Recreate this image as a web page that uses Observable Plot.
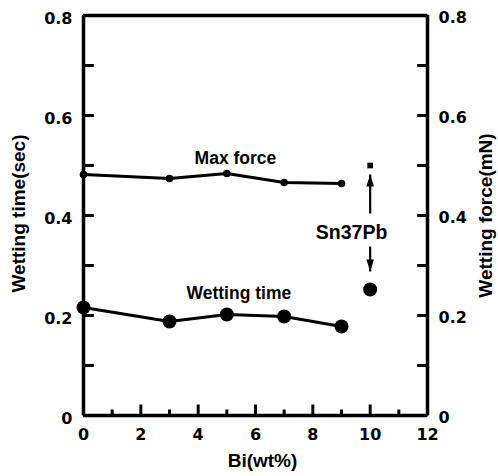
<!DOCTYPE html>
<html>
<head>
<meta charset="utf-8">
<script src="https://cdn.jsdelivr.net/npm/d3@7"></script>
<script src="https://cdn.jsdelivr.net/npm/@observablehq/plot@0.6"></script>
<style>
  body { margin: 0; background: #fff; }
  svg { font-family: "Liberation Sans", Arial, sans-serif; }
</style>
</head>
<body>
<div id="chart"></div>
<script>
// Data
const biContent = [0, 3, 5, 7, 9];
const maxForce = [0.482, 0.474, 0.484, 0.466, 0.464];
const wettingTime = [0.216, 0.188, 0.202, 0.198, 0.178];
const sn37pbX = [10];
const sn37pbForce = [0.50];
const sn37pbTime = [0.252];
const xTicks = [0, 2, 4, 6, 8, 10, 12];
const xMinorTicks = [1, 3, 5, 7, 9, 11];
const yTicks = [0, 0.2, 0.4, 0.6, 0.8];
const yMinorTicks = [0.1, 0.3, 0.5, 0.7];
const xDomain = [0, 12];
const yDomain = [0, 0.8];
// annotation positions in data units
const seriesLabels = [
  {x: 5.3, y: 0.514, text: "Max force"},
  {x: 5.42, y: 0.244, text: "Wetting time"}
];
const refLabel = [{x: 9.35, y: 0.366, text: "Sn37Pb"}];
const arrows = [
  {x: 10, y1: 0.404, y2: 0.482, dir: "up"},
  {x: 10, y1: 0.338, y2: 0.288, dir: "down"}
];

const forceData = biContent.map((x, i) => ({x, y: maxForce[i]}));
const timeData = biContent.map((x, i) => ({x, y: wettingTime[i]}));
const refForce = sn37pbX.map((x, i) => ({x, y: sn37pbForce[i]}));
const refTime = sn37pbX.map((x, i) => ({x, y: sn37pbTime[i]}));

const fmt = d => d === 0 ? "0" : d.toFixed(1);
const allY = yTicks.concat(yMinorTicks);
const yTickSegs = allY.flatMap(v => [
  {x1: xDomain[0], x2: xDomain[0] + 0.36, y: v},
  {x1: xDomain[1] - 0.36, x2: xDomain[1], y: v}
]);
const xTickSegs = xTicks.map(v => ({x: v, y1: 0, y2: 0.022}))
  .concat(xMinorTicks.map(v => ({x: v, y1: 0, y2: 0.012})));

// elongated filled arrowhead, tip at the origin
const arrowHead = {
  draw(context) {
    context.moveTo(0, 0);
    context.lineTo(-3.8, 12);
    context.lineTo(3.8, 12);
    context.closePath();
  }
};

const tickFont = "DejaVu Sans, sans-serif";

const chart = Plot.plot({
  width: 498,
  height: 476,
  marginLeft: 83,
  marginRight: 71,
  marginTop: 15,
  marginBottom: 61,
  style: {fontFamily: "Liberation Sans, Arial, sans-serif"},
  x: {domain: xDomain, axis: null},
  y: {domain: yDomain, axis: null},
  marks: [
    // inward ticks
    Plot.link(yTickSegs, {x1: "x1", x2: "x2", y1: "y", y2: "y", stroke: "#000", strokeWidth: 3}),
    Plot.link(xTickSegs, {x1: "x", x2: "x", y1: "y1", y2: "y2", stroke: "#000", strokeWidth: 3}),
    // tick labels
    Plot.text(yTicks, {x: xDomain[0], y: d => d, text: fmt, textAnchor: "end", dx: -11, dy: 3, fontFamily: tickFont, fontSize: 16, fontWeight: "bold", fill: "#000"}),
    Plot.text(yTicks, {x: xDomain[1], y: d => d, text: fmt, textAnchor: "start", dx: 11, dy: 2, fontFamily: tickFont, fontSize: 16, fontWeight: "bold", fill: "#000"}),
    Plot.text(xTicks, {x: d => d, y: yDomain[0], text: d => String(d), dy: 19, fontFamily: tickFont, fontSize: 16, fontWeight: "bold", fill: "#000"}),
    // box
    Plot.ruleX(xDomain, {stroke: "#000", strokeWidth: 3.5}),
    Plot.ruleY(yDomain, {stroke: "#000", strokeWidth: 3.5}),
    // series
    Plot.line(forceData, {x: "x", y: "y", stroke: "#000", strokeWidth: 3}),
    Plot.dot(forceData, {x: "x", y: "y", r: 3.8, fill: "#000"}),
    Plot.line(timeData, {x: "x", y: "y", stroke: "#000", strokeWidth: 3}),
    Plot.dot(timeData, {x: "x", y: "y", r: 7, fill: "#000"}),
    Plot.dot(refForce, {x: "x", y: "y", r: 3.2, symbol: "square", fill: "#000"}),
    Plot.dot(refTime, {x: "x", y: "y", r: 7, fill: "#000"}),
    // arrows
    Plot.link(arrows, {x1: "x", x2: "x", y1: "y1", y2: "y2", stroke: "#000", strokeWidth: 2.2}),
    Plot.dot(arrows, {x: "x", y: "y2", symbol: arrowHead, r: 5, fill: "#000", stroke: "none", rotate: d => d.dir === "up" ? 0 : 180}),
    // labels
    Plot.text(seriesLabels, {x: "x", y: "y", text: "text", fontSize: 17.5, fontWeight: "bold", fill: "#000"}),
    Plot.text(refLabel, {x: "x", y: "y", text: "text", fontSize: 19.5, fontWeight: "bold", fill: "#000"}),
    // axis titles
    Plot.text(["Wetting time(sec)"], {frameAnchor: "left", textAnchor: "middle", lineAnchor: "middle", dx: -64.5, dy: -2, rotate: -90, fontSize: 19, fontWeight: "bold", fill: "#000"}),
    Plot.text(["Wetting force(mN)"], {frameAnchor: "right", textAnchor: "middle", lineAnchor: "middle", dx: 58, rotate: -90, fontSize: 19, fontWeight: "bold", fill: "#000"}),
    Plot.text(["Bi(wt%)"], {frameAnchor: "bottom", textAnchor: "middle", lineAnchor: "middle", dx: 7, dy: 45, fontSize: 19, fontWeight: "bold", fill: "#000"})
  ]
});
document.getElementById("chart").appendChild(chart);
</script>
</body>
</html>
